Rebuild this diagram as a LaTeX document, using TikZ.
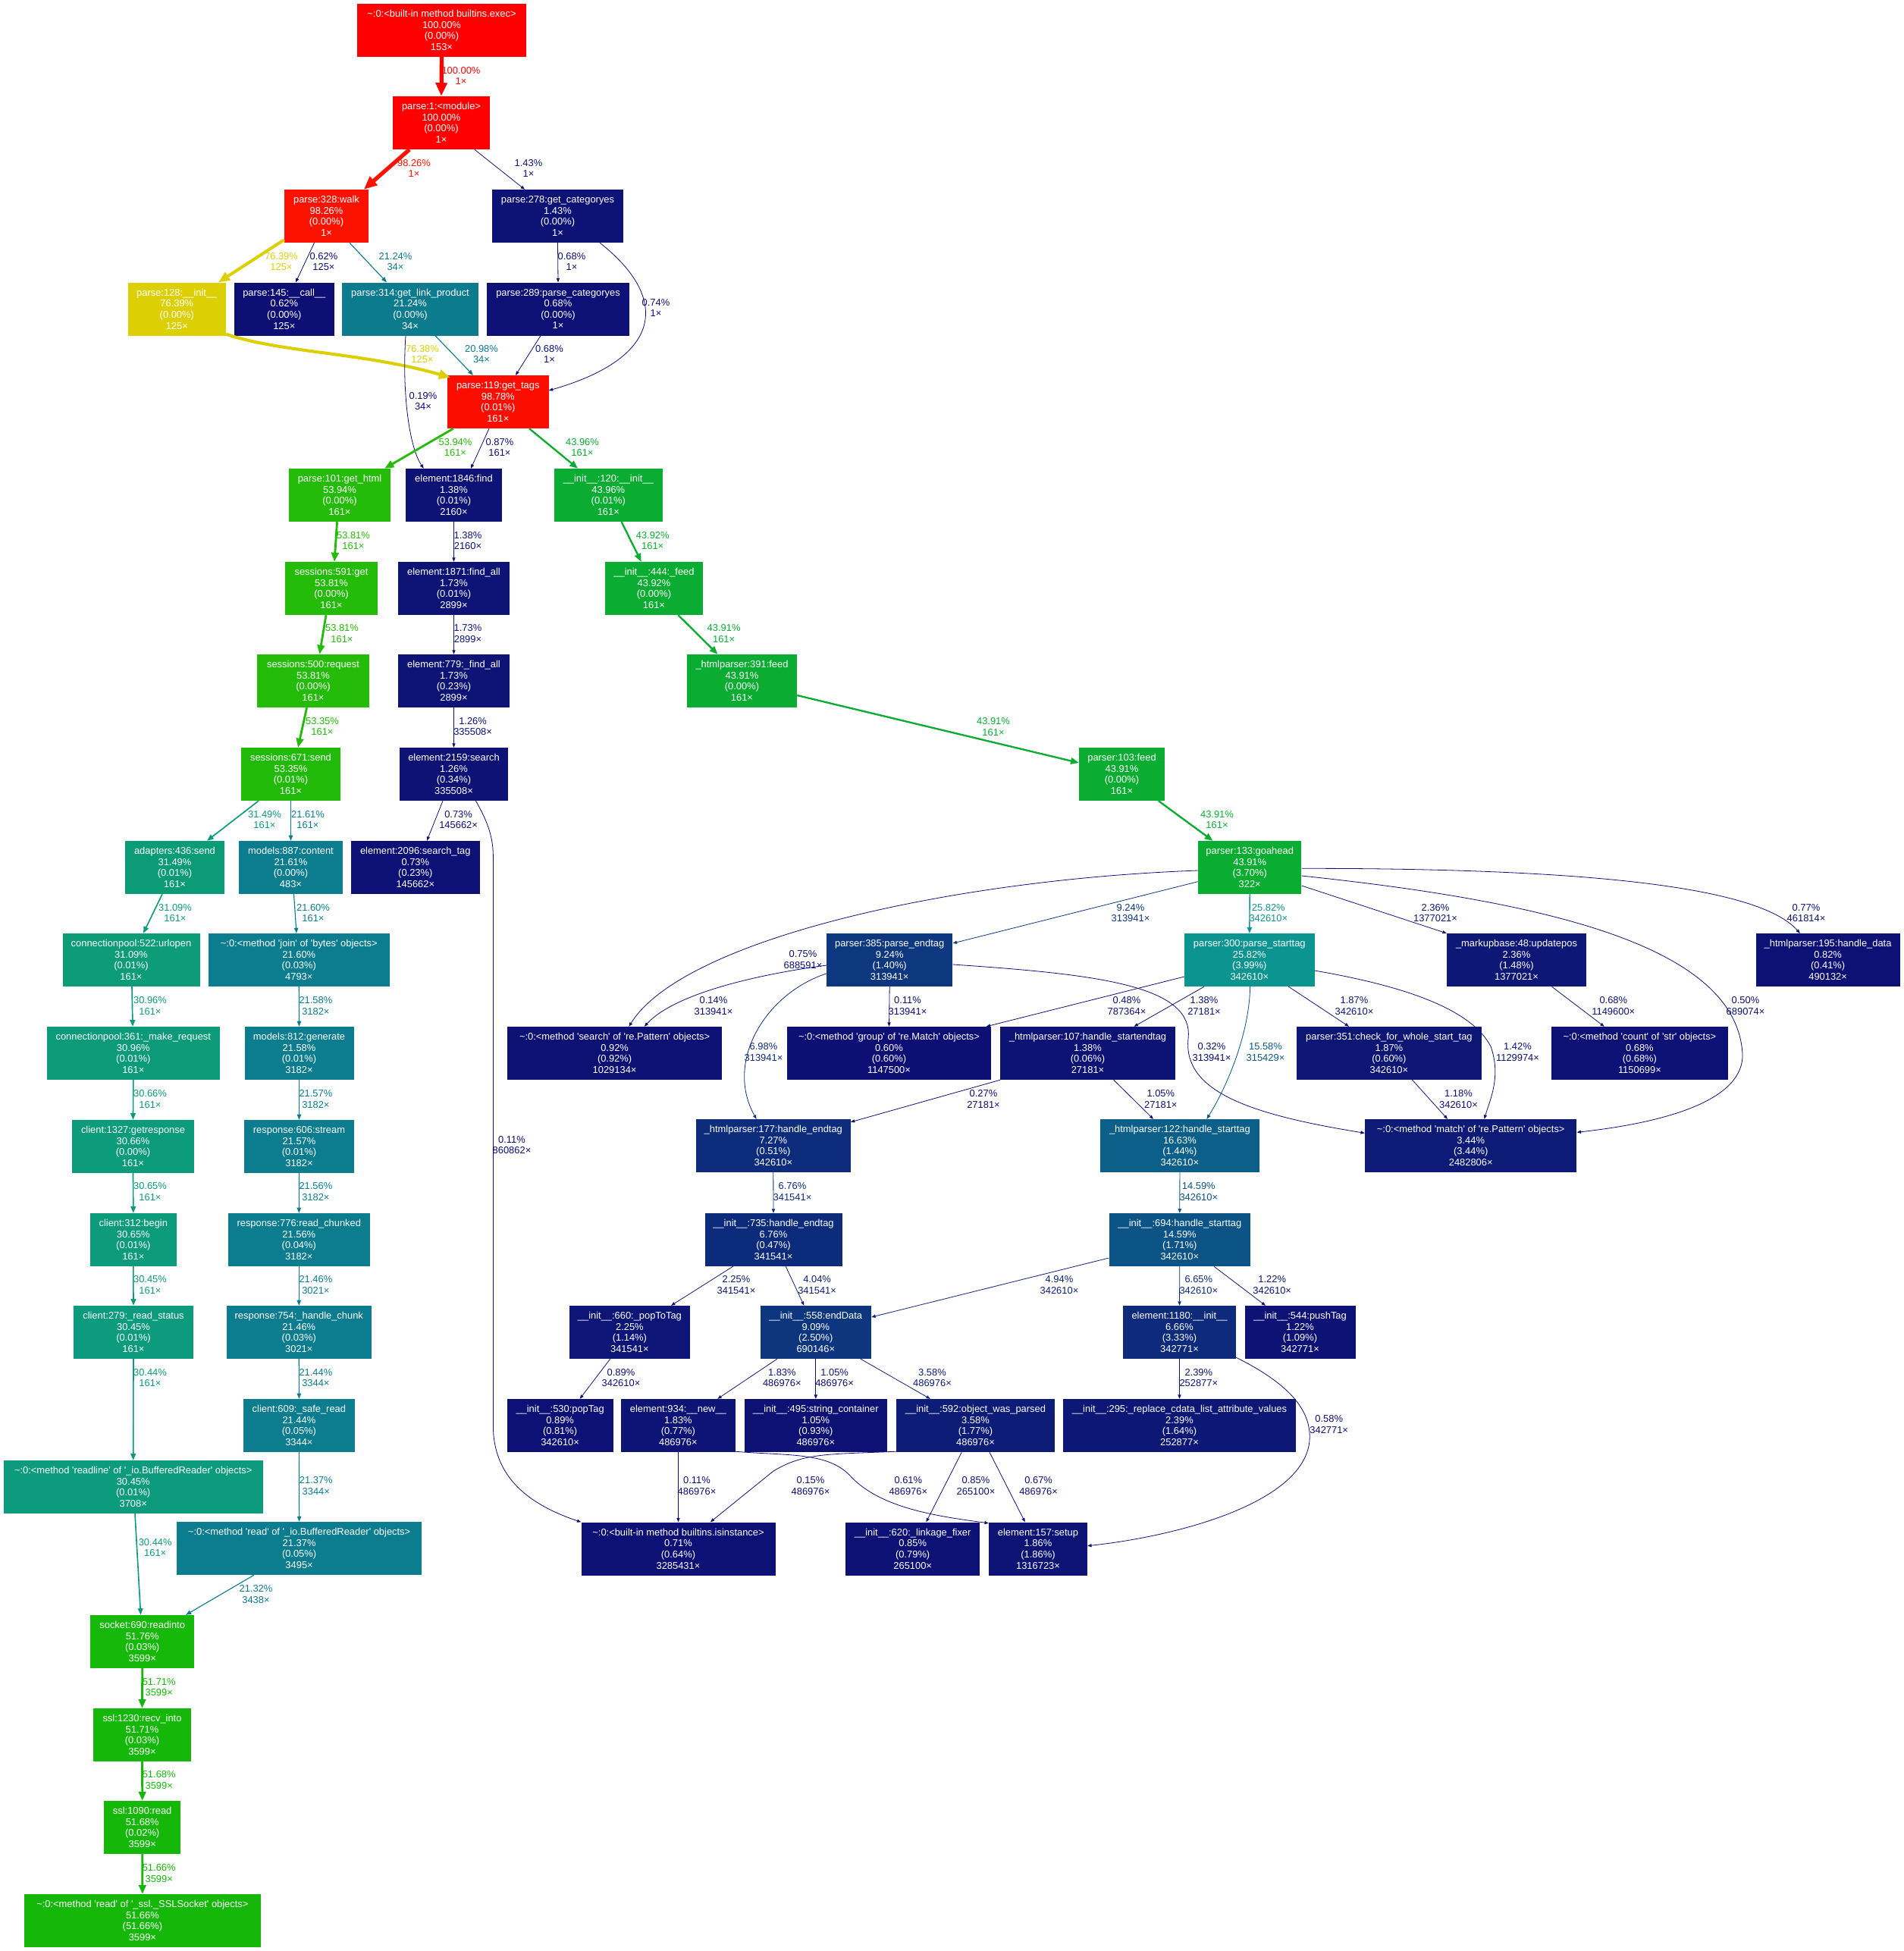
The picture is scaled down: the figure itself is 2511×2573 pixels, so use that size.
\documentclass[tikz,border=0pt]{standalone}
\usepackage{fontspec}
\setmainfont{Liberation Sans}[Ligatures=TeXOff]
\usetikzlibrary{arrows.meta,calc}

% Temperature colour map: weight (percent) -> HSL -> RGB
\newcommand{\HeatHue}[2]{%
  \pgfmathsetmacro\HeatT{#2}%
  \pgfmathsetmacro\HeatT{\HeatT<0 ? \HeatT+1 : (\HeatT>1 ? \HeatT-1 : \HeatT)}%
  \pgfmathsetmacro#1{\HeatT*6<1 ? \HeatA+(\HeatB-\HeatA)*\HeatT*6 : (\HeatT*2<1 ? \HeatB : (\HeatT*3<2 ? \HeatA+(\HeatB-\HeatA)*(2/3-\HeatT)*6 : \HeatA))}}
\newcommand{\heatcolor}[2]{%
  \pgfmathsetmacro\HeatW{#2/100}%
  \pgfmathsetmacro\HeatH{(2/3)*(1-\HeatW)}%
  \pgfmathsetmacro\HeatS{0.8+0.2*\HeatW}%
  \pgfmathsetmacro\HeatL{0.25+0.25*\HeatW}%
  \pgfmathsetmacro\HeatB{\HeatL*(1+\HeatS)}%
  \pgfmathsetmacro\HeatA{2*\HeatL-\HeatB}%
  \HeatHue\HeatR{\HeatH+1/3}%
  \HeatHue\HeatG{\HeatH}%
  \HeatHue\HeatBl{\HeatH-1/3}%
  \edef\HeatDef{\noexpand\definecolor{#1}{rgb}{\HeatR,\HeatG,\HeatBl}}\HeatDef}

\tikzset{
  fnode/.style={rectangle, inner sep=0pt, minimum height=70pt, text=white, align=center,
    font=\fontsize{12.9}{14.6}\selectfont},
  lbl/.style={inner sep=0pt, align=center, font=\fontsize{12.9}{14.6}\selectfont}
}

% function box: name, cx, cy, width, total %, label, self %, calls
\newcommand{\fn}[8]{%
  \heatcolor{nodefill}{#5}%
  \node[fnode, fill=nodefill, minimum width=#4pt] (#1) at (#2,#3) {#6\\#5\%\\(#7\%)\\#8×};}

% call arc: label name, weight %, path, label position, calls
\newcommand{\callarc}[5]{%
  \heatcolor{arccol}{#2}%
  \pgfmathsetmacro\ArcPenRaw{max(4*#2/100,0.5)}%
  \pgfmathsetmacro\ArcPen{max(\ArcPenRaw*4/3,0.8)}%
  \pgfmathsetmacro\ArcLen{0.5*sqrt(\ArcPenRaw)*10*4/3}%
  \pgfmathsetmacro\TipLen{\ArcLen+0.8*\ArcPen}%
  \pgfmathsetmacro\TipWid{0.7*\ArcLen+\ArcPen}%
  \draw[arccol, line width=\ArcPen pt, -{Triangle[length=\TipLen pt, width=\TipWid pt]}] #3;%
  \node[lbl, text=arccol] (#1) at #4 {#2\%\\#5×};}

\begin{document}
\begin{tikzpicture}[x=1pt,y=-1pt]
\fill[white] (0,0) rectangle (2511,2573);
\useasboundingbox (0,0) rectangle (2511,2573);

% ---- functions ----
\fn{exec}{582.5}{40}{223}{100.00}{\textasciitilde:0:<built-in method builtins.exec>}{0.00}{153}
\fn{module}{582}{162}{128}{100.00}{parse:1:<module>}{0.00}{1}
\fn{walk}{430.5}{285}{111}{98.26}{parse:328:walk}{0.00}{1}
\fn{getcat}{735.5}{285}{173}{1.43}{parse:278:get\_categoryes}{0.00}{1}
\fn{init128}{233.3}{407.5}{129.5}{76.39}{parse:128:\_\_init\_\_}{0.00}{125}
\fn{call145}{374.8}{407.5}{132.5}{0.62}{parse:145:\_\_call\_\_}{0.00}{125}
\fn{getlink}{541}{407.5}{180}{21.24}{parse:314:get\_link\_product}{0.00}{34}
\fn{parsecat}{736}{407.5}{188}{0.68}{parse:289:parse\_categoryes}{0.00}{1}
\fn{gettags}{656.8}{530}{133.6}{98.78}{parse:119:get\_tags}{0.01}{161}
\fn{gethtml}{448}{653}{134}{53.94}{parse:101:get\_html}{0.00}{161}
\fn{find1846}{598.5}{653}{127}{1.38}{element:1846:find}{0.01}{2160}
\fn{init120}{802.3}{653}{142.6}{43.96}{\_\_init\_\_:120:\_\_init\_\_}{0.01}{161}
\fn{sget}{437}{776}{122}{53.81}{sessions:591:get}{0.00}{161}
\fn{findall1871}{598.5}{776}{147}{1.73}{element:1871:find\_all}{0.01}{2899}
\fn{feed444}{862.5}{776}{129}{43.92}{\_\_init\_\_:444:\_feed}{0.00}{161}
\fn{srequest}{413}{898}{148}{53.81}{sessions:500:request}{0.00}{161}
\fn{findall779}{598.5}{898}{147}{1.73}{element:779:\_find\_all}{0.23}{2899}
\fn{hpfeed}{978.5}{898}{145}{43.91}{\_htmlparser:391:feed}{0.00}{161}
\fn{ssend}{383.5}{1021}{131}{53.35}{sessions:671:send}{0.01}{161}
\fn{search2159}{598.5}{1021}{143}{1.26}{element:2159:search}{0.34}{335508}
\fn{pfeed}{1479.5}{1021}{113}{43.91}{parser:103:feed}{0.00}{161}
\fn{asend}{230.5}{1144}{131}{31.49}{adapters:436:send}{0.01}{161}
\fn{content}{383.5}{1144}{137}{21.61}{models:887:content}{0.00}{483}
\fn{searchtag}{547.8}{1144}{169.5}{0.73}{element:2096:search\_tag}{0.23}{145662}
\fn{goahead}{1648.2}{1144}{136.4}{43.91}{parser:133:goahead}{3.70}{322}
\fn{urlopen}{173}{1266}{181}{31.09}{connectionpool:522:urlopen}{0.01}{161}
\fn{bjoin}{394.3}{1266}{238.6}{21.60}{\textasciitilde:0:<method 'join' of 'bytes' objects>}{0.03}{4793}
\fn{pendtag}{1173.2}{1266}{166.4}{9.24}{parser:385:parse\_endtag}{1.40}{313941}
\fn{pstarttag}{1647.8}{1266}{171.5}{25.82}{parser:300:parse\_starttag}{3.99}{342610}
\fn{updatepos}{2000}{1266}{184}{2.36}{\_markupbase:48:updatepos}{1.48}{1377021}
\fn{hdata}{2410.6}{1266}{190}{0.82}{\_htmlparser:195:handle\_data}{0.41}{490132}
\fn{mkreq}{175.8}{1389}{227.6}{30.96}{connectionpool:361:\_make\_request}{0.01}{161}
\fn{generate}{394.5}{1389}{144}{21.58}{models:812:generate}{0.01}{3182}
\fn{research}{810.6}{1389}{282.4}{0.92}{\textasciitilde:0:<method 'search' of 're.Pattern' objects>}{0.92}{1029134}
\fn{rgroup}{1172.5}{1389}{269}{0.60}{\textasciitilde:0:<method 'group' of 're.Match' objects>}{0.60}{1147500}
\fn{hstartend}{1434.5}{1389}{230.3}{1.38}{\_htmlparser:107:handle\_startendtag}{0.06}{27181}
\fn{checkstart}{1831.9}{1389}{243.7}{1.87}{parser:351:check\_for\_whole\_start\_tag}{0.60}{342610}
\fn{scount}{2162.4}{1389}{232.8}{0.68}{\textasciitilde:0:<method 'count' of 'str' objects>}{0.68}{1150699}
\fn{getresp}{175.5}{1512}{161}{30.66}{client:1327:getresponse}{0.00}{161}
\fn{stream}{394.5}{1512}{145}{21.57}{response:606:stream}{0.01}{3182}
\fn{hendtag177}{1019.8}{1511}{203.6}{7.27}{\_htmlparser:177:handle\_endtag}{0.51}{342610}
\fn{hstarttag122}{1555.9}{1511}{209.7}{16.63}{\_htmlparser:122:handle\_starttag}{1.44}{342610}
\fn{rematch}{1939.7}{1511}{279.4}{3.44}{\textasciitilde:0:<method 'match' of 're.Pattern' objects>}{3.44}{2482806}
\fn{begin}{175.8}{1635}{114.4}{30.65}{client:312:begin}{0.01}{161}
\fn{readchunked}{394.3}{1635}{186.5}{21.56}{response:776:read\_chunked}{0.04}{3182}
\fn{hendtag735}{1020}{1635}{181}{6.76}{\_\_init\_\_:735:handle\_endtag}{0.47}{341541}
\fn{hstarttag694}{1555.8}{1635}{186.5}{14.59}{\_\_init\_\_:694:handle\_starttag}{1.71}{342610}
\fn{readstatus}{176}{1757}{158}{30.45}{client:279:\_read\_status}{0.01}{161}
\fn{hchunk}{394.3}{1757}{191.4}{21.46}{response:754:\_handle\_chunk}{0.03}{3021}
\fn{poptotag}{830.4}{1757}{159.2}{2.25}{\_\_init\_\_:660:\_popToTag}{1.14}{341541}
\fn{enddata}{1075.8}{1757}{146.4}{9.09}{\_\_init\_\_:558:endData}{2.50}{690146}
\fn{elinit}{1555.5}{1757}{149}{6.66}{element:1180:\_\_init\_\_}{3.33}{342771}
\fn{pushtag}{1714.5}{1757}{146}{1.22}{\_\_init\_\_:544:pushTag}{1.09}{342771}
\fn{saferead}{394.4}{1880}{147.3}{21.44}{client:609:\_safe\_read}{0.05}{3344}
\fn{poptag}{738.6}{1880}{140.1}{0.89}{\_\_init\_\_:530:popTag}{0.81}{342610}
\fn{elnew}{894.4}{1880}{150.7}{1.83}{element:934:\_\_new\_\_}{0.77}{486976}
\fn{strcont}{1075.8}{1880}{188.5}{1.05}{\_\_init\_\_:495:string\_container}{0.93}{486976}
\fn{objparsed}{1286.5}{1880}{209}{3.58}{\_\_init\_\_:592:object\_was\_parsed}{1.77}{486976}
\fn{cdata}{1555.5}{1880}{307}{2.39}{\_\_init\_\_:295:\_replace\_cdata\_list\_attribute\_values}{1.64}{252877}
\fn{readline}{175.7}{1961}{342.1}{30.45}{\textasciitilde:0:<method 'readline' of '\_io.BufferedReader' objects>}{0.01}{3708}
\fn{bread}{394.6}{2042}{322.3}{21.37}{\textasciitilde:0:<method 'read' of '\_io.BufferedReader' objects>}{0.05}{3495}
\fn{isinst}{894.5}{2042.5}{256}{0.71}{\textasciitilde:0:<built-in method builtins.isinstance>}{0.64}{3285431}
\fn{linkage}{1203.7}{2042.5}{177.4}{0.85}{\_\_init\_\_:620:\_linkage\_fixer}{0.79}{265100}
\fn{setup}{1369}{2042.5}{130}{1.86}{element:157:setup}{1.86}{1316723}
\fn{readinto}{187.7}{2165}{136.6}{51.76}{socket:690:readinto}{0.03}{3599}
\fn{recvinto}{187.5}{2288}{129}{51.71}{ssl:1230:recv\_into}{0.03}{3599}
\fn{sslread}{187.7}{2410}{101.4}{51.68}{ssl:1090:read}{0.02}{3599}
\fn{sslsock}{187.9}{2533}{311.7}{51.66}{\textasciitilde:0:<method 'read' of '\_ssl.\_SSLSocket' objects>}{51.66}{3599}

% ---- calls ----
\callarc{e1}{100.00}{(exec.south) -- (module.north)}{(608,100)}{1}
\callarc{e2}{98.26}{($(module.south)+(-42,0)$) -- ($(walk.north)+(49.3,0)$)}{(546,222)}{1}
\callarc{e3}{1.43}{($(module.south)+(43.8,0)$) -- ($(getcat.north)+(-43.5,0)$)}{(697,222)}{1}
\callarc{e4}{76.39}{($(walk.south west)+(0,-4)$) -- ($(init128.north)+(54.7,0)$)}{(371,345)}{125}
\callarc{e5}{0.62}{($(walk.south)+(-16,0)$) -- ($(call145.north)+(15.2,0)$)}{(427,345)}{125}
\callarc{e6}{21.24}{($(walk.south)+(30.5,0)$) -- ($(getlink.north)+(-31,0)$)}{(521.5,345)}{34}
\callarc{e7}{0.68}{(getcat.south) -- (parsecat.north)}{(754,345)}{1}
\callarc{e8}{0.74}{($(getcat.south)+(55.5,0)$) .. controls (880,390) and (880,470) .. ($(gettags.east)+(0,-15)$)}{(865,406)}{1}
\callarc{e9}{0.68}{($(parsecat.south)+(-23,0)$) -- ($(gettags.north)+(23.2,0)$)}{(724.5,467)}{1}
\callarc{e10}{76.38}{($(init128.south east)+(0,-2)$) .. controls (370,465) and (480,465) .. ($(gettags.north west)+(4,3)$)}{(557,467)}{125}
\callarc{e11}{20.98}{($(getlink.south)+(33,0)$) -- ($(gettags.north)+(-32.8,0)$)}{(635,467)}{34}
\callarc{e12}{0.19}{($(getlink.south)+(-6,0)$) .. controls (530,520) and (540,590) .. ($(find1846.north)+(-39.8,0)$)}{(558,529)}{34}
\callarc{e13}{53.94}{($(gettags.south)+(-59,0)$) -- ($(gethtml.north east)+(-8,0)$)}{(600.5,590)}{161}
\callarc{e14}{0.87}{($(gettags.south)+(-11.8,0)$) -- ($(find1846.north)+(22.5,0)$)}{(659,590)}{161}
\callarc{e15}{43.96}{($(gettags.south)+(41.2,0)$) -- ($(init120.north)+(-40.3,0)$)}{(768,590)}{161}
\callarc{e16}{53.81}{($(gethtml.south)+(-3.4,0)$) -- ($(sget.north)+(4,0)$)}{(466,713)}{161}
\callarc{e17}{53.81}{($(sget.south)+(-7,0)$) -- ($(srequest.north)+(8.4,0)$)}{(451,835.5)}{161}
\callarc{e18}{53.35}{($(srequest.south)+(-8.4,0)$) -- ($(ssend.north)+(9.5,0)$)}{(425,958)}{161}
\callarc{e19}{31.49}{($(ssend.south)+(-42.5,0)$) -- ($(asend.north)+(42.5,0)$)}{(349,1081)}{161}
\callarc{e20}{21.61}{(ssend.south) -- (content.north)}{(406,1081)}{161}
\callarc{e21}{31.09}{($(asend.south)+(-16.5,0)$) -- ($(urlopen.north)+(16,0)$)}{(231,1204)}{161}
\callarc{e22}{21.60}{($(content.south)+(4,0)$) -- ($(bjoin.north)+(-3.3,0)$)}{(413,1204)}{161}
\callarc{e23}{1.38}{(find1846.south) -- (findall1871.north)}{(617,713)}{2160}
\callarc{e24}{1.73}{(findall1871.south) -- (findall779.north)}{(617,835.5)}{2899}
\callarc{e25}{1.26}{(findall779.south) -- (search2159.north)}{(623.6,958)}{335508}
\callarc{e26}{0.73}{($(search2159.south)+(-14.5,0)$) -- ($(searchtag.north)+(15.2,0)$)}{(604.6,1081)}{145662}
\callarc{e27}{0.11}{($(search2159.south)+(29,0)$) .. controls (644,1085) and (650.4,1105) .. (650.4,1130) -- (650.4,1880) .. controls (650.4,1950) and (700,1985) .. (isinst.north west)}{(675,1510)}{860862}
\callarc{e28}{43.92}{($(init120.south)+(17.3,0)$) -- ($(feed444.north)+(-16.8,0)$)}{(860.7,713)}{161}
\callarc{e29}{43.91}{($(feed444.south)+(32,0)$) -- ($(hpfeed.north)+(-32,0)$)}{(954.6,835.5)}{161}
\callarc{e30}{43.91}{($(hpfeed.east)+(0,19)$) -- ($(pfeed.west)+(0,-15)$)}{(1310,958.7)}{161}
\callarc{e31}{43.91}{($(pfeed.south)+(48.3,0)$) -- ($(goahead.north)+(-48.7,0)$)}{(1605,1081)}{161}
\callarc{e32}{0.75}{($(goahead.west)+(0,4)$) .. controls (1250,1160) and (900,1240) .. ($(research.north)+(18.8,0)$)}{(1059,1265.5)}{688591}
\callarc{e33}{9.24}{($(goahead.west)+(0,18.7)$) -- ($(pendtag.east)+(0,-22)$)}{(1491,1204)}{313941}
\callarc{e34}{25.82}{(goahead.south) -- (pstarttag.north)}{(1672.8,1204)}{342610}
\callarc{e35}{2.36}{($(goahead.east)+(0,24)$) -- (updatepos.north west)}{(1893,1204)}{1377021}
\callarc{e36}{0.77}{($(goahead.east)+(0,1.3)$) .. controls (2100,1145) and (2320,1170) .. ($(hdata.north)+(-36.8,0)$)}{(2382,1204)}{461814}
\callarc{e37}{0.50}{($(goahead.east)+(0,11)$) .. controls (2050,1190) and (2290,1250) .. (2298,1390) .. controls (2300,1450) and (2200,1480) .. ($(rematch.east)+(0,-17.7)$)}{(2302,1326.5)}{689074}
\callarc{e38}{0.14}{($(pendtag.west)+(0,7)$) .. controls (1000,1285) and (890,1310) .. ($(research.north)+(39.2,0)$)}{(941,1326.7)}{313941}
\callarc{e39}{6.98}{($(pendtag.west)+(0,18)$) .. controls (1010,1310) and (955,1400) .. ($(hendtag177.north)+(-22.2,0)$)}{(1007,1387.5)}{313941}
\callarc{e40}{0.11}{(pendtag.south) -- (rgroup.north)}{(1197,1326.7)}{313941}
\callarc{e41}{0.32}{($(pendtag.east)+(0,6)$) .. controls (1450,1285) and (1575,1300) .. (1567,1370) .. controls (1560,1440) and (1650,1470) .. ($(rematch.west)+(0,-16.7)$)}{(1598,1387.5)}{313941}
\callarc{e42}{0.48}{($(pstarttag.west)+(0,22)$) -- ($(rgroup.north east)+(-6.5,0)$)}{(1486,1326.7)}{787364}
\callarc{e43}{1.38}{($(pstarttag.south)+(-59.8,0)$) -- ($(hstartend.north)+(61,0)$)}{(1588,1326.7)}{27181}
\callarc{e44}{15.58}{($(pstarttag.south)+(0.8,0)$) .. controls (1648,1360) and (1620,1430) .. ($(hstarttag122.north)+(35.5,0)$)}{(1669,1387.5)}{315429}
\callarc{e45}{1.87}{($(pstarttag.south)+(51.6,0)$) -- ($(checkstart.north)+(-52.9,0)$)}{(1786,1326.7)}{342610}
\callarc{e46}{1.42}{($(pstarttag.east)+(0,14)$) .. controls (1850,1300) and (1940,1330) .. (1966,1380) .. controls (1980,1420) and (1965,1450) .. ($(rematch.north)+(17.8,0)$)}{(2001.5,1387.5)}{1129974}
\callarc{e47}{0.68}{($(updatepos.south)+(46.5,0)$) -- ($(scount.north)+(-46.7,0)$)}{(2127.8,1326.7)}{1149600}
\callarc{e48}{1.18}{($(checkstart.south)+(30.6,0)$) -- ($(rematch.north)+(-30.7,0)$)}{(1923.5,1449.5)}{342610}
\callarc{e49}{0.27}{(hstartend.south west) -- ($(hendtag177.north east)+(0,4)$)}{(1297,1449.5)}{27181}
\callarc{e50}{1.05}{($(hstartend.south)+(34.2,0)$) -- ($(hstarttag122.north)+(-34.9,0)$)}{(1530.8,1449.5)}{27181}
\callarc{e51}{6.76}{(hendtag177.south) -- (hendtag735.north)}{(1045,1571.6)}{341541}
\callarc{e52}{14.59}{(hstarttag122.south) -- (hstarttag694.north)}{(1580.8,1571.6)}{342610}
\callarc{e53}{2.25}{($(hendtag735.south)+(-53.4,0)$) -- ($(poptotag.north)+(54.6,0)$)}{(971,1694.4)}{341541}
\callarc{e54}{4.04}{($(hendtag735.south)+(16.3,0)$) -- ($(enddata.north)+(-15.4,0)$)}{(1077.6,1694.4)}{341541}
\callarc{e55}{4.94}{($(hstarttag694.west)+(0,24)$) -- ($(enddata.east)+(0,-20)$)}{(1397,1694.4)}{342610}
\callarc{e56}{6.65}{(hstarttag694.south) -- (elinit.north)}{(1580.8,1694.4)}{342610}
\callarc{e57}{1.22}{($(hstarttag694.south)+(45.2,0)$) -- ($(pushtag.north)+(-45.5,0)$)}{(1677.7,1694.4)}{342610}
\callarc{e58}{0.89}{($(poptotag.south)+(-25.7,0)$) -- ($(poptag.north)+(26,0)$)}{(819,1817)}{342610}
\callarc{e59}{1.83}{($(enddata.south)+(-51,0)$) -- ($(elnew.north)+(51.9,0)$)}{(1031.3,1817)}{486976}
\callarc{e60}{1.05}{(enddata.south) -- (strcont.north)}{(1100.6,1817)}{486976}
\callarc{e61}{3.58}{($(enddata.south)+(59.2,0)$) -- ($(objparsed.north)+(-59.7,0)$)}{(1229.5,1817)}{486976}
\callarc{e62}{2.39}{(elinit.south) -- (cdata.north)}{(1580.8,1817)}{252877}
\callarc{e63}{0.58}{($(elinit.south east)+(0,-2)$) .. controls (1700,1825) and (1730,1860) .. (1727,1900) .. controls (1720,1980) and (1560,2025) .. ($(setup.east)+(0,-3.8)$)}{(1752.7,1878.5)}{342771}
\callarc{e64}{0.11}{(elnew.south) -- (isinst.north)}{(919,1959.5)}{486976}
\callarc{e65}{0.15}{($(objparsed.south west)+(0,-1)$) .. controls (1090,1918) and (1060,1916) .. (1020,1940) -- ($(isinst.north)+(42.3,0)$)}{(1069,1959.5)}{486976}
\callarc{e66}{0.61}{($(elnew.south east)+(0,-1)$) .. controls (1040,1920) and (1090,1915) .. (1120,1945) .. controls (1160,1990) and (1240,2000) .. ($(setup.north west)+(0,1.5)$)}{(1197.8,1959.5)}{486976}
\callarc{e67}{0.85}{($(objparsed.south)+(-18.2,0)$) -- ($(linkage.north)+(17.7,0)$)}{(1287,1959.5)}{265100}
\callarc{e68}{0.67}{($(objparsed.south)+(18.5,0)$) -- ($(setup.north)+(-17.2,0)$)}{(1369.6,1959.5)}{486976}
\callarc{e69}{30.96}{($(urlopen.south)+(1,0)$) -- ($(mkreq.north)+(-0.8,0)$)}{(198,1326.7)}{161}
\callarc{e70}{30.66}{(mkreq.south) -- (getresp.north)}{(198,1449.5)}{161}
\callarc{e71}{30.65}{(getresp.south) -- (begin.north)}{(198,1571.6)}{161}
\callarc{e72}{30.45}{(begin.south) -- (readstatus.north)}{(198,1694.4)}{161}
\callarc{e73}{30.44}{(readstatus.south) -- (readline.north)}{(198,1817)}{161}
\callarc{e74}{21.58}{(bjoin.south) -- (generate.north)}{(416.4,1326.7)}{3182}
\callarc{e75}{21.57}{(generate.south) -- (stream.north)}{(416.4,1449.5)}{3182}
\callarc{e76}{21.56}{(stream.south) -- (readchunked.north)}{(416.4,1571.6)}{3182}
\callarc{e77}{21.46}{(readchunked.south) -- (hchunk.north)}{(416.4,1694.4)}{3021}
\callarc{e78}{21.44}{(hchunk.south) -- (saferead.north)}{(416.4,1817)}{3344}
\callarc{e79}{21.37}{(saferead.south) -- (bread.north)}{(416.8,1959.5)}{3344}
\callarc{e80}{30.44}{($(readline.south)+(2.3,0)$) -- ($(readinto.north)+(-2.1,0)$)}{(204.7,2041)}{161}
\callarc{e81}{21.32}{($(bread.south)+(-59.7,0)$) -- ($(readinto.north)+(57.3,0)$)}{(337.5,2102.5)}{3438}
\callarc{e82}{51.71}{(readinto.south) -- (recvinto.north)}{(209.7,2225)}{3599}
\callarc{e83}{51.68}{(recvinto.south) -- (sslread.north)}{(209.7,2347.7)}{3599}
\callarc{e84}{51.66}{(sslread.south) -- (sslsock.north)}{(209.7,2470.6)}{3599}
\end{tikzpicture}
\end{document}
